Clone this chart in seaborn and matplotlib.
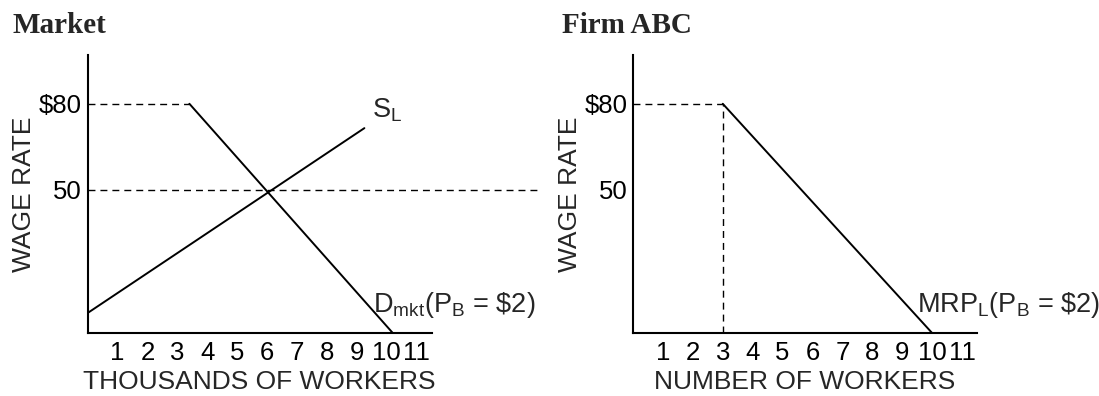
import numpy as np
import pandas as pd
import matplotlib
matplotlib.use("Agg")
import matplotlib.pyplot as plt
import seaborn as sns

# data
x_ticks = [1, 2, 3, 4, 5, 6, 7, 8, 9, 10, 11]
y_ticks = [50, 80]
y_tick_labels = ["50", "$80"]

supply_x = [0, 9.25]
supply_y = [7, 71.5]
demand_x = [3.4, 10.2]
demand_y = [80, 0]
firm_x = [3, 10]
firm_y = [80, 0]

market_wage = 50
firm_wage = 80
firm_workers = 3

sns.set_style("white")
plt.rcParams["font.family"] = ["Liberation Sans", "DejaVu Sans"]
plt.rcParams["mathtext.fontset"] = "custom"
plt.rcParams["mathtext.rm"] = "Liberation Sans"
plt.rcParams["mathtext.it"] = "Liberation Sans"
plt.rcParams["lines.scale_dashes"] = False

fig = plt.figure(figsize=(10.99, 3.96), dpi=100)
ax1 = fig.add_axes([0.0798, 0.159, 0.313, 0.702])
ax2 = fig.add_axes([0.576, 0.159, 0.313, 0.702])

lw = 1.4
dash = (0, (5, 3.6))

# market panel
sns.lineplot(x=supply_x, y=supply_y, ax=ax1, color="black", lw=lw)
sns.lineplot(x=demand_x, y=demand_y, ax=ax1, color="black", lw=lw)
ax1.plot([0, demand_x[0]], [demand_y[0], demand_y[0]], color="black", lw=1.0, ls=dash)
ax1.plot([0, 15.1], [market_wage, market_wage], color="black", lw=1.0, ls=dash, clip_on=False)
ax1.text(9.5, 73, r"S$_{\mathrm{L}}$", fontsize=19.5, ha="left", va="bottom")
ax1.text(9.55, 4.5, r"D$_{\mathrm{mkt}}$(P$_{\mathrm{B}}$ = \$2)", fontsize=19.5, ha="left", va="bottom")
ax1.set_xlabel("THOUSANDS OF WORKERS", fontsize=19, labelpad=3)
fig.text(0.011, 0.917, "Market", fontsize=21, fontweight="bold", family="Liberation Serif", va="baseline")

# firm panel
sns.lineplot(x=firm_x, y=firm_y, ax=ax2, color="black", lw=lw)
ax2.plot([0, firm_workers], [firm_wage, firm_wage], color="black", lw=1.0, ls=dash)
ax2.plot([firm_workers, firm_workers], [0, firm_wage], color="black", lw=1.0, ls=dash)
ax2.text(9.5, 4.5, r"MRP$_{\mathrm{L}}$(P$_{\mathrm{B}}$ = \$2)", fontsize=19.5, ha="left", va="bottom")
ax2.set_xlabel("NUMBER OF WORKERS", fontsize=19, labelpad=3)
fig.text(0.511, 0.917, "Firm ABC", fontsize=21, fontweight="bold", family="Liberation Serif", va="baseline")

for ax in (ax1, ax2):
    ax.set_xlim(0, 11.5)
    ax.set_ylim(0, 97)
    ax.set_xticks(x_ticks)
    ax.set_xticklabels([str(t) for t in x_ticks])
    ax.set_yticks(y_ticks)
    ax.set_yticklabels(y_tick_labels)
    ax.tick_params(axis="both", length=0, labelsize=18.5, colors="black")
    ax.tick_params(axis="x", pad=6)
    ax.tick_params(axis="y", pad=4)
    ax.set_ylabel("WAGE RATE", fontsize=19, labelpad=2)
    sns.despine(ax=ax)
    for s in ("left", "bottom"):
        ax.spines[s].set_color("black")
        ax.spines[s].set_linewidth(1.5)
    ax.patch.set_alpha(0)

fig.savefig("out.png", dpi=100)
